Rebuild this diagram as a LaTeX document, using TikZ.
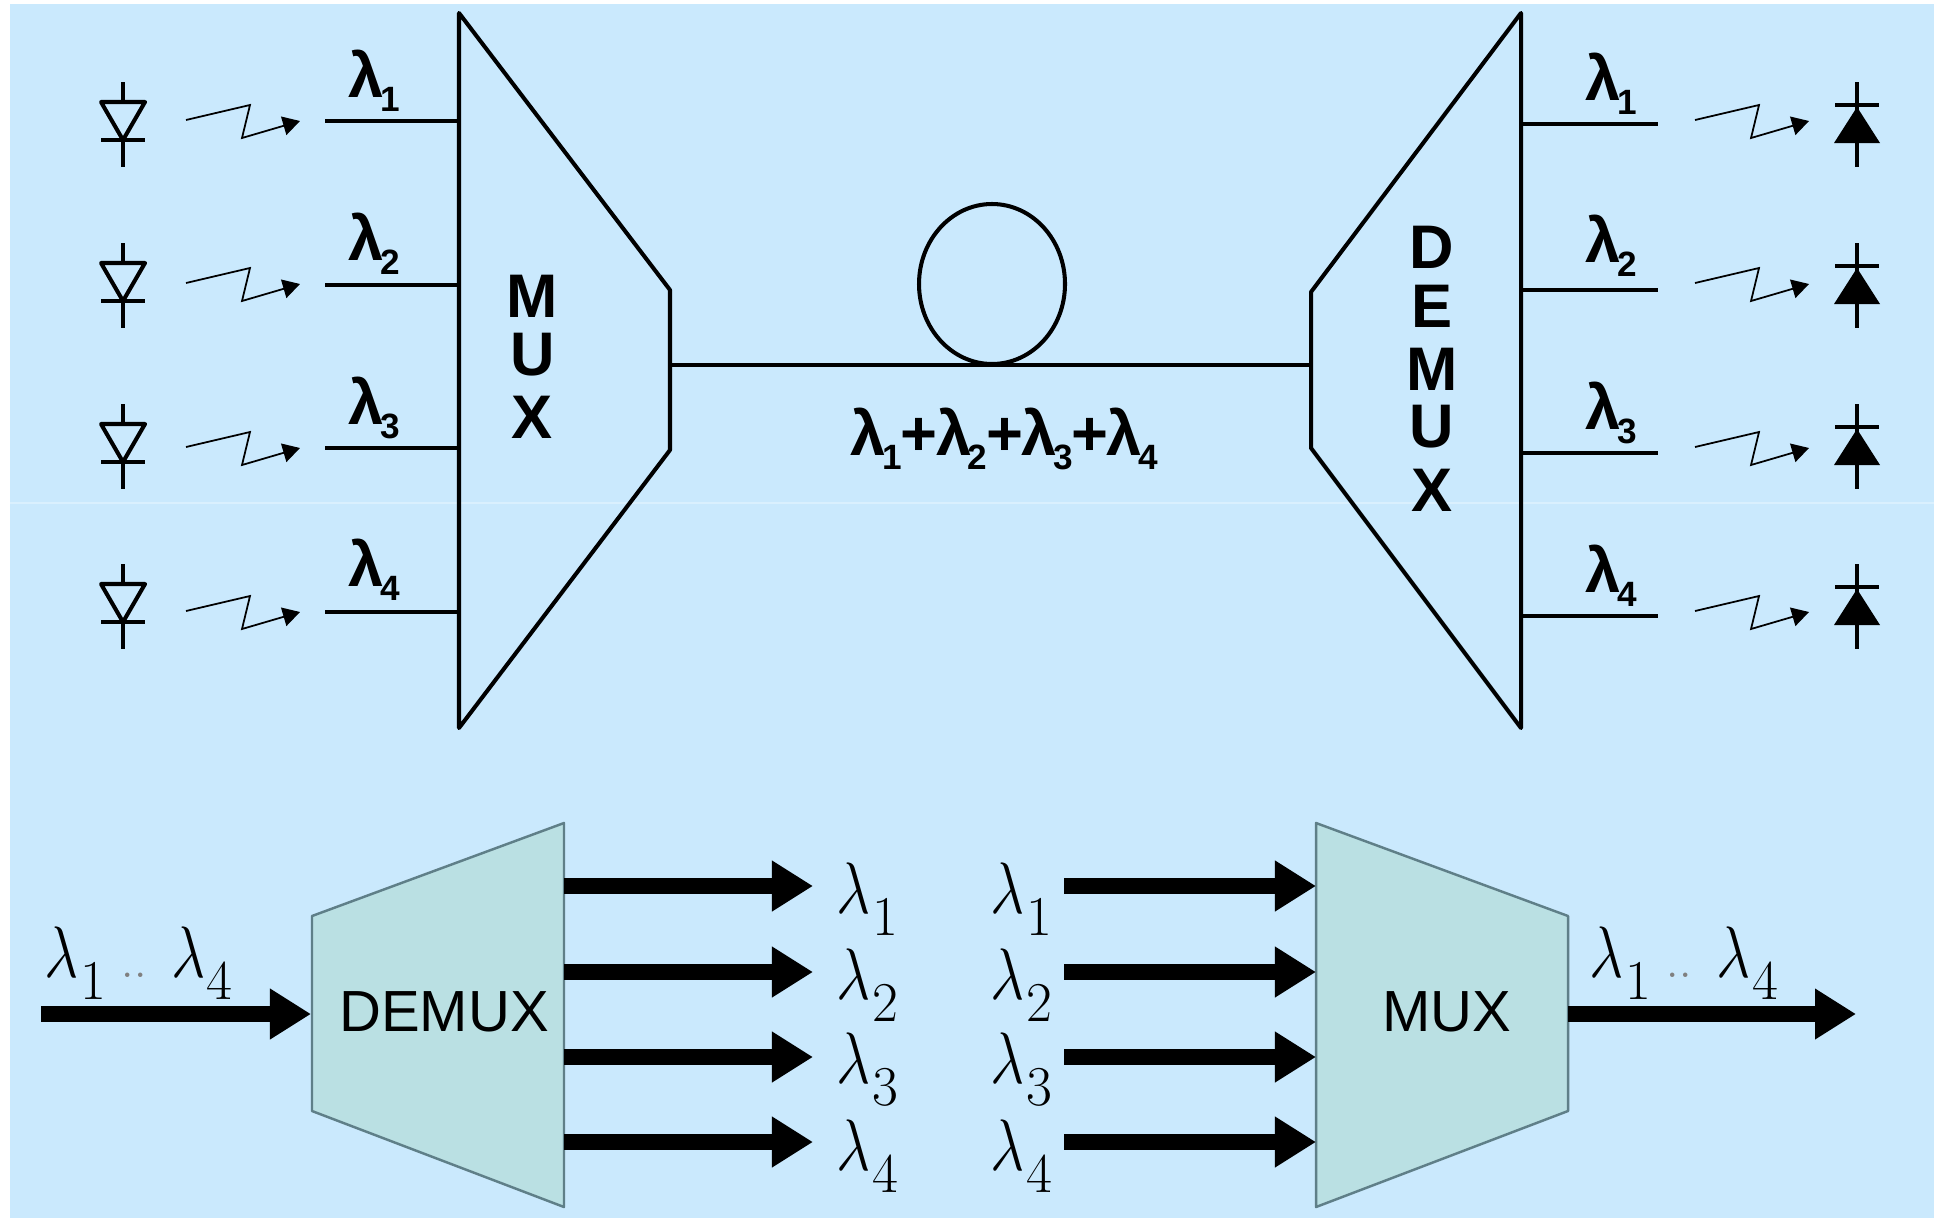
\documentclass[tikz,border=0pt]{standalone}
\usepackage{fontspec}
\newfontfamily\labelfont{Liberation Sans}
\usepackage{tikz}
\usetikzlibrary{arrows.meta}
\usetikzlibrary{calc}
\definecolor{bgblue}{HTML}{CAE9FD}
\definecolor{boxteal}{HTML}{BAE0E3}
\definecolor{boxedge}{HTML}{5F7F88}
\newcommand{\toplam}[1]{{\labelfont\bfseries λ\kern-1pt\raisebox{-4pt}{\fontsize{10}{10}\selectfont #1}}}
\newcommand{\sumplus}{{\labelfont\bfseries\kern-0.3pt+\kern-0.5pt}}
\newcommand{\botlam}[1]{\scalebox{0.82}[1]{$\lambda$}\kern0.4pt\raisebox{-6.5pt}{\fontsize{16}{16}\selectfont #1}}
\newcommand{\lamrange}{\botlam{1}\kern4.5pt{\color{gray}\fontsize{13}{13}\selectfont ..}\kern7pt\botlam{4}}

\begin{document}
\begin{tikzpicture}[x=0.01cm,y=-0.01cm,
  wire/.style={line width=1.15pt,line join=round},
  zigzag/.style={line width=0.5pt,-{Triangle[length=0.17cm,width=0.19cm]}},
  fatarrow/.style={line width=4.5pt,-{Triangle[length=0.41cm,width=0.48cm]}},
  toplabel/.style={anchor=base west,inner sep=0pt,font=\fontsize{18}{18}\selectfont},
  letter/.style={inner sep=0pt,font=\labelfont\bfseries\fontsize{17.5}{17.5}\selectfont},
  botlabel/.style={anchor=base west,inner sep=0pt,font=\fontsize{22}{22}\selectfont},
  blockname/.style={inner sep=0pt,font=\labelfont\fontsize{16.5}{16.5}\selectfont},
  block/.style={draw=boxedge,fill=boxteal,line width=0.7pt,line join=round},
  ledsym/.pic={
    \draw [wire] (0,-42) -- (0,-22);
    \draw [wire] (0,16) -- (0,43);
    \draw [wire] (-22,-22) -- (22,-22) -- (0,16) -- cycle;
    \draw [wire] (-22,16) -- (22,16);
  },
  pdsym/.pic={
    \draw [wire] (0,-42) -- (0,43);
    \draw [wire] (-22,-19) -- (22,-19);
    \fill (0,-17) -- (23,19) -- (-23,19) -- cycle;
  },
  lightzig/.pic={
    \draw [zigzag] (0,0) -- (64,-15) -- (56,18) -- (114,1);
  }]
\useasboundingbox (0,0) rectangle (1934,1218);
\fill [bgblue] (10,4) rectangle (1934,1218);
\draw [line width=0.3pt,color=bgblue!70!white] (10,503) -- (1934,503);
% upper part
\draw [wire] (459,13) -- (670,290) -- (670,450) -- (459,728) -- cycle;
\draw [wire] (1521,13) -- (1311,292) -- (1311,448) -- (1521,728) -- cycle;
\coordinate (muxout) at (670,365);
\coordinate (demuxin) at (1311,365);
\draw [wire] (muxout) -- (demuxin);
\draw [wire] (992,284) ellipse (73 and 80);
\node [toplabel] (sum) at (850,455) {\toplam{1}\sumplus\toplam{2}\sumplus\toplam{3}\sumplus\toplam{4}};
\node [letter] (m1) at (532,296) {M};
\node [letter] (m2) at (533,355) {U};
\node [letter] (m3) at (532,417) {X};
\node [letter] (d1) at (1432,247) {D};
\node [letter] (d2) at (1432,306) {E};
\node [letter] (d3) at (1432,369) {M};
\node [letter] (d4) at (1432,427) {U};
\node [letter] (d5) at (1432,490) {X};
% sources
\pic at (123,124) {ledsym};
\pic at (123,285) {ledsym};
\pic at (123,446) {ledsym};
\pic at (123,606) {ledsym};
\pic at (186,120) {lightzig};
\pic at (186,283) {lightzig};
\pic at (186,447) {lightzig};
\pic at (186,611) {lightzig};
\coordinate (a1) at (325,121);
\coordinate (a2) at (325,285);
\coordinate (a3) at (325,448);
\coordinate (a4) at (325,612);
\coordinate (b1) at (459,121);
\coordinate (b2) at (459,285);
\coordinate (b3) at (459,448);
\coordinate (b4) at (459,612);
\draw [wire] (a1) -- (b1);
\draw [wire] (a2) -- (b2);
\draw [wire] (a3) -- (b3);
\draw [wire] (a4) -- (b4);
\node [toplabel] (la1) at (348,97) {\toplam{1}};
\node [toplabel] (la2) at (348,260) {\toplam{2}};
\node [toplabel] (la3) at (348,424) {\toplam{3}};
\node [toplabel] (la4) at (348,586) {\toplam{4}};
% receivers
\coordinate (c1) at (1521,124);
\coordinate (c2) at (1521,290);
\coordinate (c3) at (1521,453);
\coordinate (c4) at (1521,616);
\coordinate (e1) at (1658,124);
\coordinate (e2) at (1658,290);
\coordinate (e3) at (1658,453);
\coordinate (e4) at (1658,616);
\draw [wire] (c1) -- (e1);
\draw [wire] (c2) -- (e2);
\draw [wire] (c3) -- (e3);
\draw [wire] (c4) -- (e4);
\node [toplabel] (lb1) at (1585,100) {\toplam{1}};
\node [toplabel] (lb2) at (1585,262) {\toplam{2}};
\node [toplabel] (lb3) at (1585,429) {\toplam{3}};
\node [toplabel] (lb4) at (1585,592) {\toplam{4}};
\pic at (1695,120) {lightzig};
\pic at (1695,283) {lightzig};
\pic at (1695,447) {lightzig};
\pic at (1695,611) {lightzig};
\pic at (1857,124) {pdsym};
\pic at (1857,285) {pdsym};
\pic at (1857,446) {pdsym};
\pic at (1857,606) {pdsym};
% lower part
\draw [block] (312,916) -- (564,823) -- (564,1207) -- (312,1111) -- cycle;
\draw [block] (1316,823) -- (1568,916) -- (1568,1111) -- (1316,1207) -- cycle;
\node [blockname] (demuxname) at (444,1012) {DEMUX};
\node [blockname] (muxname) at (1447,1012) {MUX};
\coordinate (inl) at (41,1014);
\coordinate (intip) at (311,1014);
\coordinate (outl) at (1568,1014);
\coordinate (outtip) at (1856,1014);
\draw [fatarrow] (inl) -- (intip);
\draw [fatarrow] (outl) -- (outtip);
\coordinate (p1) at (564,886);
\coordinate (p2) at (564,972);
\coordinate (p3) at (564,1057);
\coordinate (p4) at (564,1142);
\coordinate (q1) at (813,886);
\coordinate (q2) at (813,972);
\coordinate (q3) at (813,1057);
\coordinate (q4) at (813,1142);
\draw [fatarrow] (p1) -- (q1);
\draw [fatarrow] (p2) -- (q2);
\draw [fatarrow] (p3) -- (q3);
\draw [fatarrow] (p4) -- (q4);
\coordinate (r1) at (1064,886);
\coordinate (r2) at (1064,972);
\coordinate (r3) at (1064,1057);
\coordinate (r4) at (1064,1142);
\coordinate (s1) at (1316,886);
\coordinate (s2) at (1316,972);
\coordinate (s3) at (1316,1057);
\coordinate (s4) at (1316,1142);
\draw [fatarrow] (r1) -- (s1);
\draw [fatarrow] (r2) -- (s2);
\draw [fatarrow] (r3) -- (s3);
\draw [fatarrow] (r4) -- (s4);
\node [botlabel] (lp1) at (836,913) {\botlam{1}};
\node [botlabel] (lp2) at (836,999) {\botlam{2}};
\node [botlabel] (lp3) at (836,1083) {\botlam{3}};
\node [botlabel] (lp4) at (836,1170) {\botlam{4}};
\node [botlabel] (lr1) at (990,913) {\botlam{1}};
\node [botlabel] (lr2) at (990,999) {\botlam{2}};
\node [botlabel] (lr3) at (990,1083) {\botlam{3}};
\node [botlabel] (lr4) at (990,1170) {\botlam{4}};
\node [botlabel] (lin) at (44,977) {\lamrange};
\node [botlabel] (lout) at (1589,977) {\lamrange};
\end{tikzpicture}
\end{document}
